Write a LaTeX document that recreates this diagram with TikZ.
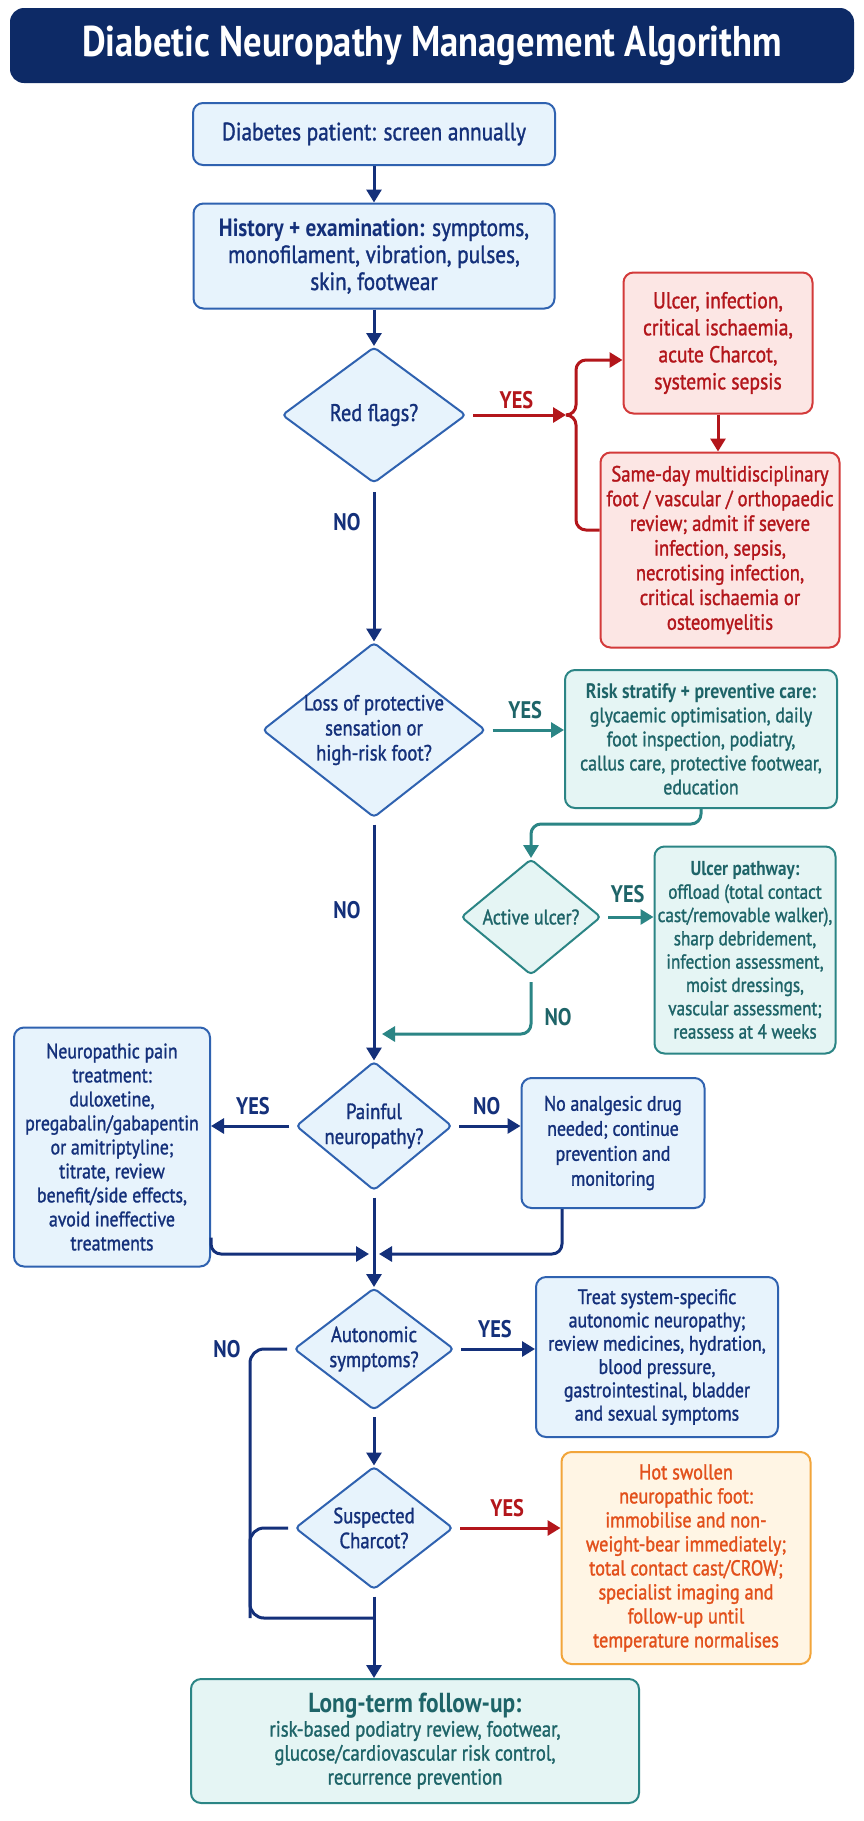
\documentclass[tikz,border=0pt]{standalone}
\usepackage{fontspec}
\setmainfont{PT Sans}[FakeStretch=0.85, UprightFeatures={FakeBold=1.3}]
\usetikzlibrary{shapes.geometric,arrows.meta,positioning}
\definecolor{navy}{HTML}{0D2A66}
\definecolor{ink}{HTML}{14307A}
\definecolor{blueline}{HTML}{2F62B0}
\definecolor{bluefill}{HTML}{E7F3FC}
\definecolor{redline}{HTML}{D33A3A}
\definecolor{redfill}{HTML}{FCE6E4}
\definecolor{redink}{HTML}{B3161B}
\definecolor{tealline}{HTML}{2B8585}
\definecolor{tealfill}{HTML}{E5F5F4}
\definecolor{tealink}{HTML}{1E6468}
\definecolor{orline}{HTML}{F2A53A}
\definecolor{orfill}{HTML}{FFF5E4}
\definecolor{orink}{HTML}{E2501B}
\begin{document}
\begin{tikzpicture}[x=1pt, y=-1pt,
    box/.style={rectangle, rounded corners=10pt, draw=blueline, line width=2pt,
      fill=bluefill, text=ink, align=center, inner sep=0pt,
      font={\fontsize{21}{24}\selectfont}},
    redbox/.style={box, draw=redline, fill=redfill, text=redink},
    tealbox/.style={box, draw=tealline, fill=tealfill, text=tealink},
    orbox/.style={box, draw=orline, fill=orfill, text=orink},
    dec/.style={diamond, rounded corners=4pt, draw=blueline, line width=2pt,
      fill=bluefill, text=ink, align=center, inner sep=-15pt,
      font={\fontsize{22}{25}\selectfont}},
    link/.style={line width=3pt, draw=ink, -{Triangle[length=13pt,width=15pt]}},
    wire/.style={line width=3pt, draw=ink},
    redlink/.style={link, draw=redink},
    teallink/.style={link, draw=tealline},
    lab/.style={font={\bfseries\fontsize{24}{24}\selectfont}, text=ink, inner sep=2pt}]
  \fill[white] (0,0) rectangle (864,1821);
  \useasboundingbox (0,0) rectangle (864,1821);
  % title
  \node (title) at (432,45.5) [fill=navy, rounded corners=14pt, minimum width=844pt,
    minimum height=75pt, text=white, font={\bfseries\fontsize{43}{46}\selectfont}]
    {Diabetic Neuropathy Management Algorithm};
  % main column
  \node (start) at (374,134) [box, minimum width=362pt, minimum height=62pt,
    font={\fontsize{25}{27}\selectfont}] {Diabetes patient: screen annually};
  \node (hist) at (374,256) [box, minimum width=361pt, minimum height=105pt,
    font={\fontsize{25}{27}\selectfont}]
    {\textbf{History + examination:} symptoms,\\ monofilament, vibration, pulses,\\ skin, footwear};
  \node (rf) at (374,415) [dec, minimum width=184pt, minimum height=136pt,
    font={\fontsize{24}{26}\selectfont}] {Red flags?};
  \node (lops) at (374,730) [dec, minimum width=223pt, minimum height=175pt]
    {Loss of protective\\ sensation or\\ high-risk foot?};
  \node (pain) at (374,1126) [dec, minimum width=156pt, minimum height=129pt]
    {Painful\\ neuropathy?};
  \node (auto) at (374,1349) [dec, minimum width=160pt, minimum height=122pt]
    {Autonomic\\ symptoms?};
  \node (charcot) at (374,1528) [dec, minimum width=158pt, minimum height=123pt]
    {Suspected\\ Charcot?};
  \node (follow) at (415,1741) [tealbox, minimum width=448pt, minimum height=124pt,
    font={\fontsize{22}{24}\selectfont}]
    {{\bfseries\fontsize{27.5}{27}\selectfont Long-term follow-up:}\\ risk-based podiatry review, footwear,\\
     glucose/cardiovascular risk control,\\ recurrence prevention};
  % red branch
  \node (urgent) at (718,343) [redbox, minimum width=189pt, minimum height=141pt,
    font={\fontsize{23}{27}\selectfont}]
    {Ulcer, infection,\\ critical ischaemia,\\ acute Charcot,\\ systemic sepsis};
  \node (review) at (720,550) [redbox, minimum width=239pt, minimum height=195pt,
    font={\fontsize{22}{24.7}\selectfont}]
    {Same-day multidisciplinary\\ foot / vascular / orthopaedic\\ review; admit if severe\\
     infection, sepsis,\\ necrotising infection,\\ critical ischaemia or\\ osteomyelitis};
  % teal branch
  \node (prev) at (701,739) [tealbox, minimum width=272pt, minimum height=138pt]
    {\textbf{Risk stratify + preventive care:}\\ glycaemic optimisation, daily\\ foot inspection, podiatry,\\
     callus care, protective footwear,\\ education};
  \node (ulcer) at (531,917) [dec, draw=tealline, fill=tealfill, text=tealink,
    minimum width=140pt, minimum height=116pt, font={\fontsize{21}{24}\selectfont}] {Active ulcer?};
  \node (ulcerpath) at (745,950) [tealbox, minimum width=181pt, minimum height=207pt,
    font={\fontsize{20.2}{23.3}\selectfont}]
    {\textbf{Ulcer pathway:}\\ offload (total contact\\ cast/removable walker),\\ sharp debridement,\\
     infection assessment,\\ moist dressings,\\ vascular assessment;\\ reassess at 4 weeks};
  % pain, autonomic, charcot boxes
  \node (painrx) at (112,1147) [box, minimum width=196pt, minimum height=239pt]
    {Neuropathic pain\\ treatment:\\ duloxetine,\\ pregabalin/gabapentin\\ or amitriptyline;\\
     titrate, review\\ benefit/side effects,\\ avoid ineffective\\ treatments};
  \node (noanalg) at (613,1143) [box, minimum width=183pt, minimum height=130pt,
    font={\fontsize{21}{25}\selectfont}]
    {No analgesic drug\\ needed; continue\\ prevention and\\ monitoring};
  \node (autorx) at (657,1357) [box, minimum width=242pt, minimum height=160pt,
    font={\fontsize{21}{23.3}\selectfont}]
    {Treat system-specific\\ autonomic neuropathy;\\ review medicines, hydration,\\ blood pressure,\\
     gastrointestinal, bladder\\ and sexual symptoms};
  \node (charrx) at (686,1558) [orbox, minimum width=249pt, minimum height=212pt,
    font={\fontsize{21.5}{24}\selectfont}]
    {Hot swollen\\ neuropathic foot:\\ immobilise and non-\\ weight-bear immediately;\\
     total contact cast/CROW;\\ specialist imaging and\\ follow-up until\\ temperature normalises};
  % junctions
  \coordinate (j1) at (566,415);
  \coordinate (jn1) at (374,1034);
  \coordinate (jn2) at (374,1254);
  \coordinate (nc) at (250,1618);
  \coordinate (jn3) at (374,1618);
  % connectors
  \draw[link] (start) -- (hist);
  \draw[link] (hist) -- (rf);
  \draw[redlink, shorten <=6pt] (rf.east) -- (j1) node[lab, text=redink, midway, above=3pt] {YES};
  \draw[redlink, rounded corners=10pt] (j1) -- ++(10,0) |- ([yshift=-17pt]urgent.west);
  \draw[wire, draw=redink, rounded corners=10pt] (j1) -- ++(10,0) |- ([yshift=20pt]review.west);
  \draw[redlink] (urgent) -- (urgent.south |- review.north);
  \draw[link, shorten <=8pt] (rf) -- (lops) node[lab, pos=0.24, left=10pt] {NO};
  \draw[teallink, shorten <=6pt] (lops.east) -- (lops.east -| prev.west)
    node[lab, text=tealink, midway, above=8pt] {YES};
  \draw[teallink, rounded corners=10pt] (prev.south) -- ++(0,15) -| (ulcer.north);
  \draw[teallink, shorten <=6pt] (ulcer.east) -- (ulcer.east -| ulcerpath.west)
    node[lab, text=tealink, midway, above=11pt] {YES};
  \draw[teallink, rounded corners=10pt, shorten <=6pt, shorten >=8pt] (ulcer.south) |- (jn1)
    node[lab, text=tealink, pos=0.35, right=10pt] {NO};
  \draw[link, shorten <=6pt] (lops) -- (pain) node[lab, pos=0.38, left=10pt] {NO};
  \draw[link, shorten <=6pt] (pain.west) -- (pain.west -| painrx.east)
    node[lab, midway, above=8pt] {YES};
  \draw[link, shorten <=6pt] (pain.east) -- (pain.east -| noanalg.west)
    node[lab, midway, above=8pt] {NO};
  \draw[link, rounded corners=10pt, shorten >=5pt] ([yshift=30pt]painrx.south east) |- (jn2);
  \draw[link, rounded corners=10pt, shorten >=5pt] ([xshift=-51pt]noanalg.south) |- (jn2);
  \draw[link, shorten <=6pt] (pain) -- (auto);
  \draw[link, shorten <=6pt] (auto.east) -- (auto.east -| autorx.west)
    node[lab, midway, above=8pt] {YES};
  \draw[link, shorten <=6pt] (auto) -- (charcot);
  \draw[redlink, shorten <=6pt] (charcot.east) -- (charcot.east -| charrx.west)
    node[lab, text=redink, midway, above=8pt] {YES};
  \draw[wire, rounded corners=14pt, shorten <=6pt] (auto.west) -| node[lab, left=6pt] {NO} (nc) -- (jn3);
  \draw[wire, rounded corners=14pt, shorten <=6pt] (charcot.west) -| (nc);
  \draw[link, shorten <=6pt] (charcot) -- (follow.north -| charcot.south);
\end{tikzpicture}
\end{document}
